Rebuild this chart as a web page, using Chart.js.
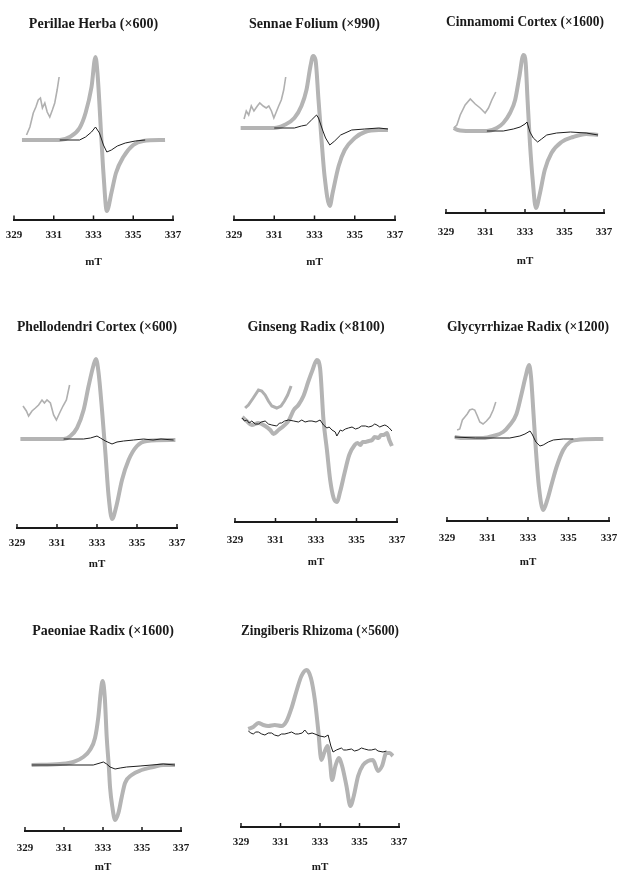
<!DOCTYPE html>
<html lang="en">
<head>
<meta charset="UTF-8">
<title>ESR spectra</title>
<script src="https://cdn.jsdelivr.net/npm/chart.js"></script>
<style>
  body { margin: 0; background: #fff; }
  #wrap { position: relative; width: 617px; height: 887px; overflow: hidden; }
  #wrap canvas { position: absolute; }
</style>
</head>
<body>
<div id="wrap"></div>
<script>
// x in mT, y = signal height (baseline = 0)
// gray = thick trace, black = thin trace, inset = magnified low-field part
const perillaeGray = [[329.4,0],[331.3,0],[331.8,3],[332.3,12],[332.6,27],[332.9,53],[333.1,83],[333.2,67],[333.4,0],[333.5,-33],[333.67,-71],[333.9,-53],[334.13,-33],[334.5,-17],[335,-5],[335.5,-1],[336.6,0]];
const perillaeBlack = [[331.3,0],[332.3,0],[332.6,3],[332.9,8],[333.1,13],[333.3,7],[333.5,-5],[333.67,-12],[333.9,-10],[334.2,-6],[334.6,-3],[335.1,-1],[335.6,0]];
const perillaeInset = [[329.63,5],[329.8,13],[329.97,27],[330.1,33],[330.22,40],[330.33,42],[330.43,32],[330.55,37],[330.67,28],[330.8,23],[330.93,30],[331.05,37],[331.17,50],[331.27,63]];

const sennaeGray = [[329.33,0],[331,0],[331.5,3],[332,10],[332.35,22],[332.6,38],[332.8,62],[332.93,72],[333.05,68],[333.2,28],[333.35,-12],[333.5,-48],[333.76,-78],[333.9,-65],[334.2,-38],[334.5,-22],[335,-10],[335.5,-4],[336.2,-2],[336.65,-2]];
const sennaeBlack = [[331,0],[332,0],[332.35,2],[332.6,3],[332.85,8],[333.1,13],[333.2,10],[333.4,-2],[333.55,-10],[333.76,-17],[334,-13],[334.3,-7],[334.85,-2],[335.5,-1],[336.2,0],[336.65,-1]];
const sennaeInset = [[329.5,9],[329.61,17],[329.73,13],[329.86,22],[329.99,17],[330.16,22],[330.28,25],[330.45,22],[330.6,20],[330.73,22],[330.86,17],[330.98,10],[331.1,16],[331.22,22],[331.35,28],[331.47,38],[331.57,51]];

const cinnamomiGray = [[329.39,3],[329.6,1],[330.2,0],[331.07,0],[331.57,3],[331.9,8],[332.24,18],[332.5,31],[332.71,54],[332.92,76],[333.03,69],[333.13,31],[333.25,-12],[333.39,-49],[333.55,-77],[333.76,-62],[334,-39],[334.34,-22],[334.85,-11],[335.44,-6],[336.1,-3],[336.7,-4]];
const cinnamomiBlack = [[331.07,0],[331.9,0],[332.41,2],[332.75,4],[333,7],[333.1,9],[333.25,-1],[333.42,-7],[333.64,-11],[333.84,-8],[334.1,-4],[334.6,-2],[335.3,-1],[336.1,-2],[336.7,-4]];
const cinnamomiInset = [[329.39,3],[329.55,6],[329.72,16],[329.97,26],[330.23,32],[330.48,27],[330.73,23],[330.98,18],[331.15,23],[331.32,31],[331.52,39]];

const phellodendriGray = [[329.17,0],[331.33,0],[331.67,3],[332,11],[332.33,29],[332.58,53],[332.83,74],[332.95,80],[333.08,66],[333.25,29],[333.42,-14],[333.58,-57],[333.75,-80],[333.97,-67],[334.25,-41],[334.58,-21],[335,-7],[335.5,-2],[336.92,-1]];
const phellodendriBlack = [[331.33,0],[332.33,0],[332.67,1],[333,3],[333.17,1],[333.42,-2],[333.75,-5],[334,-3],[334.33,-2],[334.83,-1],[335.33,0],[335.8,-1],[336.2,0],[336.83,-1]];
const phellodendriInset = [[329.3,33],[329.47,28],[329.58,23],[329.75,28],[329.92,31],[330.08,34],[330.25,39],[330.37,36],[330.5,39],[330.67,36],[330.83,24],[330.97,19],[331.13,26],[331.3,33],[331.47,39],[331.63,54]];

const ginsengGray = [[329.36,6],[329.58,2],[329.83,-2],[330.16,0],[330.49,-3],[330.74,-7],[330.9,-11],[331.15,-7],[331.4,-3],[331.64,2],[331.9,13],[332.13,18],[332.38,27],[332.63,42],[332.83,53],[333.04,63],[333.2,55],[333.37,3],[333.54,-27],[333.7,-57],[333.87,-75],[334.03,-79],[334.2,-68],[334.41,-50],[334.64,-32],[334.91,-22],[335.05,-20],[335.19,-22],[335.3,-19],[335.44,-19],[335.6,-18],[335.77,-17],[335.9,-14],[336.1,-15],[336.2,-12],[336.34,-12],[336.5,-10],[336.62,-17],[336.75,-23]];
const ginsengBlack = [[329.36,5],[329.47,2],[329.58,3],[329.7,0],[329.83,2],[330.0,-1],[330.16,-1],[330.3,1],[330.49,2],[330.65,-1],[330.82,-2],[331.06,-3],[331.2,0],[331.3,0],[331.45,2],[331.64,3],[331.9,2],[332.13,1],[332.3,3],[332.46,1],[332.65,2],[332.8,2],[333.0,1],[333.2,3],[333.37,-2],[333.54,-5],[333.65,-4],[333.79,-7],[333.95,-9],[334.03,-13],[334.2,-7],[334.3,-8],[334.45,-6],[334.6,-5],[334.78,-4],[334.95,-6],[335.1,-5],[335.25,-3],[335.44,-3],[335.6,-4],[335.77,-3],[335.9,-1],[336.01,-2],[336.15,-4],[336.26,-3],[336.4,-2],[336.5,-3],[336.62,-5],[336.75,-8]];
const ginsengInset = [[329.5,15],[329.66,18],[329.9,25],[330.16,33],[330.32,32],[330.49,28],[330.65,22],[330.82,17],[331.06,15],[331.27,17],[331.44,22],[331.6,28],[331.77,37]];

const glycyrrhizaeGray = [[329.38,1],[329.8,0],[330.78,0],[331.28,2],[331.77,6],[332.1,13],[332.43,24],[332.68,44],[332.9,63],[333.05,73],[333.15,61],[333.26,28],[333.39,-12],[333.54,-49],[333.75,-72],[333.95,-62],[334.17,-46],[334.41,-29],[334.74,-12],[335.07,-4],[335.4,-2],[336.72,-1]];
const glycyrrhizaeBlack = [[329.38,1],[330.4,0],[332.1,0],[332.6,2],[332.85,4],[333.1,7],[333.2,4],[333.39,-4],[333.59,-8],[333.75,-7],[334,-4],[334.25,-2],[334.74,-1],[335.24,-1]];
const glycyrrhizaeInset = [[329.5,8],[329.63,9],[329.76,18],[329.88,21],[330,24],[330.12,28],[330.25,29],[330.37,28],[330.5,22],[330.62,16],[330.78,14],[330.95,17],[331.12,21],[331.28,28],[331.41,36]];

const paeoniaeGray = [[329.34,0],[330.8,1],[331.48,3],[331.99,8],[332.33,15],[332.59,27],[332.76,48],[332.88,72],[332.98,84],[333.09,68],[333.19,28],[333.3,-2],[333.36,-22],[333.48,-42],[333.62,-55],[333.79,-48],[333.96,-32],[334.13,-18],[334.47,-10],[334.98,-5],[335.58,-2],[336.09,0],[336.69,0]];
const paeoniaeBlack = [[329.34,0],[332.5,0],[332.85,2],[333.02,3],[333.19,1],[333.36,-2],[333.62,-4],[333.88,-3],[334.21,-2],[334.9,-1],[336.09,1],[336.69,0]];

const zingiberisGray = [[329.37,4],[329.62,6],[329.88,10],[330.13,8],[330.38,7],[330.71,8],[331.05,7],[331.31,12],[331.56,25],[331.81,42],[332.06,57],[332.32,63],[332.54,55],[332.74,33],[332.91,3],[333.07,-27],[333.21,-20],[333.38,-13],[333.5,-27],[333.61,-47],[333.78,-33],[333.95,-25],[334.12,-33],[334.34,-53],[334.54,-73],[334.71,-63],[334.93,-43],[335.18,-32],[335.43,-28],[335.68,-27],[335.94,-38],[336.14,-33],[336.36,-20],[336.53,-20],[336.69,-23]];
const zingiberisBlack = [[329.37,2],[329.5,0],[329.62,-1],[329.75,1],[329.88,1],[330.05,-1],[330.21,-2],[330.38,0],[330.55,0],[330.7,-2],[330.88,-3],[331.05,-1],[331.22,-1],[331.4,0],[331.56,1],[331.75,-1],[331.9,-1],[332.1,0],[332.23,3],[332.4,-1],[332.6,0],[332.74,-1],[332.99,-3],[333.24,-4],[333.41,-2],[333.55,-13],[333.66,-19],[333.83,-17],[334.08,-15],[334.2,-17],[334.34,-17],[334.59,-16],[334.75,-18],[334.93,-17],[335.1,-15],[335.26,-16],[335.45,-17],[335.6,-17],[335.8,-16],[335.94,-18],[336.19,-19],[336.36,-18]];

const xTicks = { min: 329, max: 337, step: 2 };
const axisTitle = 'mT';

// panel placement on the page (pixels)
const panels = [
  { title: 'Perillae Herba (×600)', gray: perillaeGray, black: perillaeBlack, inset: perillaeInset, titleY: 24, axisY: 219.5, baseY: 140, L: 14, R: 173, labelY: 235, mTY: 263 },
  { title: 'Sennae Folium (×990)', gray: sennaeGray, black: sennaeBlack, inset: sennaeInset, titleY: 24, axisY: 219.5, baseY: 128, L: 234, R: 395, labelY: 235, mTY: 263 },
  { title: 'Cinnamomi Cortex (×1600)', gray: cinnamomiGray, black: cinnamomiBlack, inset: cinnamomiInset, titleY: 22, axisY: 213, baseY: 131, L: 446, R: 604, labelY: 232, mTY: 262 },
  { title: 'Phellodendri Cortex (×600)', gray: phellodendriGray, black: phellodendriBlack, inset: phellodendriInset, titleY: 327, axisY: 528, baseY: 439, L: 17, R: 177, labelY: 543, mTY: 565 },
  { title: 'Ginseng Radix (×8100)', gray: ginsengGray, black: ginsengBlack, inset: ginsengInset, insetWidth: 3, titleY: 327, axisY: 522, baseY: 423, L: 235, R: 397, labelY: 540, mTY: 563 },
  { title: 'Glycyrrhizae Radix (×1200)', gray: glycyrrhizaeGray, black: glycyrrhizaeBlack, inset: glycyrrhizaeInset, titleY: 327, axisY: 521, baseY: 438, L: 447, R: 609, labelY: 538, mTY: 563 },
  { title: 'Paeoniae Radix (×1600)', gray: paeoniaeGray, black: paeoniaeBlack, inset: null, titleY: 631, axisY: 831, baseY: 765, L: 25, R: 181, labelY: 848, mTY: 868 },
  { title: 'Zingiberis Rhizoma (×5600)', gray: zingiberisGray, black: zingiberisBlack, inset: null, titleY: 631, axisY: 827, baseY: 733, L: 241, R: 399, labelY: 842, mTY: 868 }
];

const serif = 'Liberation Serif, Times New Roman, serif';
const ink = '#1a1a1a';
const pts = arr => arr.map(p => ({ x: p[0], y: p[1] }));
const wrap = document.getElementById('wrap');

// small tick marks standing up from the axis line
const innerTicks = {
  id: 'innerTicks',
  afterDraw(chart) {
    const sx = chart.scales.x, ctx = chart.ctx, y = chart.chartArea.bottom;
    ctx.save();
    ctx.strokeStyle = ink;
    ctx.lineWidth = 1.5;
    sx.ticks.forEach(t => {
      const x = sx.getPixelForValue(t.value);
      ctx.beginPath();
      ctx.moveTo(x, y - 4);
      ctx.lineTo(x, y);
      ctx.stroke();
    });
    ctx.restore();
  }
};

panels.forEach(p => {
  const side = 30, titleLine = 16.8;
  const top = p.titleY - 8;
  const areaTop = p.titleY + 18;
  const axisH = p.mTY - p.axisY + 6;
  const w = p.R - p.L + 2 * side;
  const h = p.axisY + axisH - top;

  const cv = document.createElement('canvas');
  cv.width = w; cv.height = h;
  cv.style.left = (p.L - side) + 'px';
  cv.style.top = top + 'px';
  wrap.appendChild(cv);

  const datasets = [
    { data: pts(p.black), borderColor: '#1e1e1e', borderWidth: 1, tension: 0 },
    { data: pts(p.gray), borderColor: '#b4b4b4', borderWidth: 4, cubicInterpolationMode: 'monotone' }
  ];
  if (p.inset) {
    datasets.push({ data: pts(p.inset), borderColor: '#b0b0b0', borderWidth: p.insetWidth || 1.6, tension: 0 });
  }

  new Chart(cv.getContext('2d'), {
    type: 'line',
    data: { datasets: datasets },
    plugins: [innerTicks],
    options: {
      responsive: false,
      animation: false,
      layout: { padding: { left: side, right: side, top: 0, bottom: 0 } },
      elements: { point: { radius: 0 } },
      plugins: {
        legend: { display: false },
        tooltip: { enabled: false },
        title: {
          display: true,
          text: p.title,
          color: ink,
          font: { family: serif, weight: 'bold', size: 14 },
          padding: { top: 0, bottom: areaTop - top - titleLine }
        }
      },
      scales: {
        x: {
          type: 'linear',
          min: xTicks.min,
          max: xTicks.max,
          afterFit: s => { s.height = axisH; },
          border: { display: true, color: ink, width: 2 },
          grid: { display: false, drawTicks: false, tickLength: 0 },
          ticks: {
            stepSize: xTicks.step,
            autoSkip: false,
            maxRotation: 0,
            color: ink,
            padding: p.labelY - p.axisY - 6.6,
            font: { family: serif, weight: 'bold', size: 11 }
          },
          title: {
            display: true,
            text: axisTitle,
            color: ink,
            padding: 0,
            font: { family: serif, weight: 'bold', size: 11 }
          }
        },
        y: {
          display: false,
          min: -(p.axisY - p.baseY),
          max: p.baseY - areaTop
        }
      }
    }
  });
});
</script>
</body>
</html>
